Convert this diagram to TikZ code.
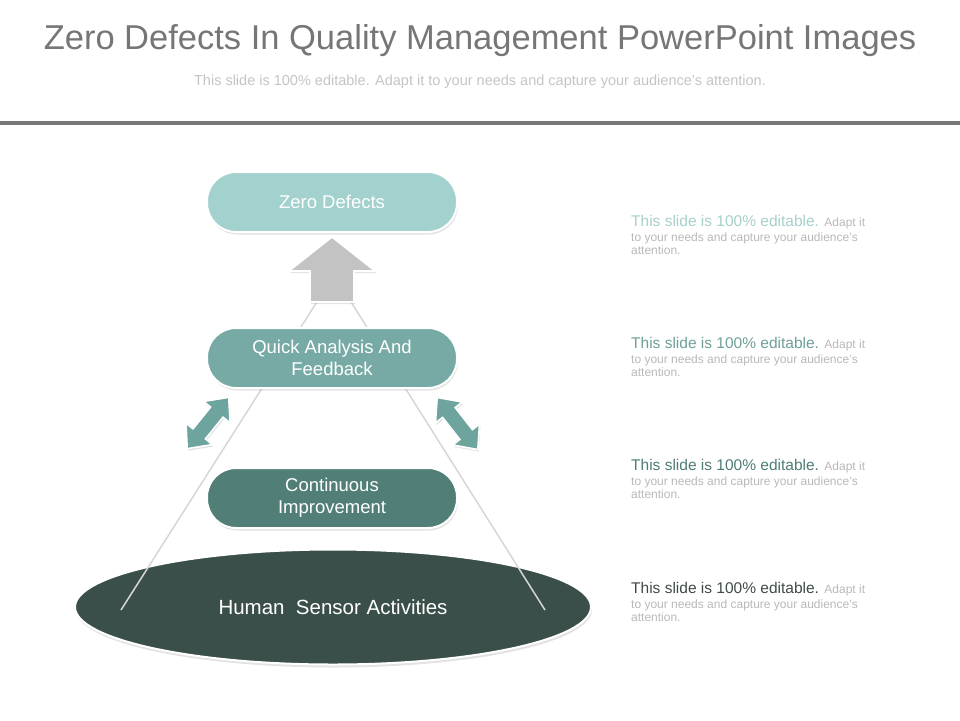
\documentclass[tikz,border=0pt]{standalone}
\usepackage{fontspec}
\setmainfont{Liberation Sans}
\usetikzlibrary{shapes.geometric,shadows}
\definecolor{titlegray}{HTML}{767676}
\definecolor{subgray}{HTML}{C4C4C4}
\definecolor{rulegray}{HTML}{777777}
\definecolor{smallgray}{HTML}{B8B8B8}
\definecolor{cA}{HTML}{A3D1CD}
\definecolor{cB}{HTML}{77AAA4}
\definecolor{cC}{HTML}{517F78}
\definecolor{cD}{HTML}{3B4F4A}
\definecolor{tA}{HTML}{A6CFCB}
\definecolor{tB}{HTML}{6F9F99}
\definecolor{tC}{HTML}{4F7C76}
\definecolor{tD}{HTML}{3F4B48}
\definecolor{arrgray}{HTML}{C3C3C3}
\definecolor{arrteal}{HTML}{6EA49E}
\definecolor{pyline}{HTML}{D6D6D6}
\tikzset{
  pill/.style={rectangle, rounded corners=29pt, minimum width=250pt, minimum height=60pt,
    draw=white, line width=2pt, text=white, align=center,
    font=\fontsize{18.5}{22}\selectfont,
    drop shadow={opacity=0.22, shadow xshift=1pt, shadow yshift=-2.5pt}},
  arrowshape/.style={draw=white, line width=1.6pt,
    drop shadow={opacity=0.22, shadow xshift=1pt, shadow yshift=-2pt}},
  headtext/.style={anchor=base west, inner sep=0pt, font=\fontsize{15.5}{18}\selectfont},
  smalltext/.style={anchor=base west, inner sep=0pt, text=smallgray, font=\fontsize{12}{14}\selectfont},
}
\begin{document}
\begin{tikzpicture}[x=1pt,y=-1pt]
\useasboundingbox (0,0) rectangle (960,720);
% header
\node[anchor=base, inner sep=0pt, text=titlegray, font=\fontsize{34.5}{40}\selectfont] (title) at (480,49) {Zero Defects In Quality Management PowerPoint Images};
\node[anchor=base, inner sep=0pt, text=subgray, font=\fontsize{14.5}{17}\selectfont] (subtitle) at (480,85) {This slide is 100\% editable. Adapt it to your needs and capture your audience's attention.};
\fill[rulegray] (0,120.5) rectangle (960,124.5);

% base ellipse
\node[ellipse, minimum width=516pt, minimum height=115pt, fill=cD, draw=white, line width=2pt,
  drop shadow={opacity=0.22, shadow xshift=1pt, shadow yshift=-3pt},
  text=white, font=\fontsize{20.5}{24}\selectfont] (base) at (333,607) {Human\ \ Sensor Activities};

% pyramid lines
\coordinate (apex) at (334,275);
\coordinate (leftfoot) at (121,610);
\coordinate (rightfoot) at (545,610);
\draw[pyline, line width=1.5pt] (leftfoot) -- (apex) -- (rightfoot);

% boxes
\node[pill, fill=cA] (zero) at (332,202) {Zero Defects};
\node[pill, fill=cB] (quick) at (332,358) {Quick Analysis And\\Feedback};
\node[pill, fill=cC] (cont) at (332,498) {Continuous\\Improvement};

% up arrow
\fill[arrgray, arrowshape] (332,237) -- (375,271) -- (354,271) -- (354,302) -- (310,302) -- (310,271) -- (289,271) -- cycle;

% double arrows
\begin{scope}[shift={(208,423)}, rotate=51]
\fill[arrteal, arrowshape] (-33,0) -- (-14,17) -- (-14,8) -- (14,8) -- (14,17) -- (33,0) -- (14,-17) -- (14,-8) -- (-14,-8) -- (-14,-17) -- cycle;
\end{scope}
\begin{scope}[shift={(457.5,423.5)}, rotate=-52]
\fill[arrteal, arrowshape] (-33,0) -- (-14,17) -- (-14,8) -- (14,8) -- (14,17) -- (33,0) -- (14,-17) -- (14,-8) -- (-14,-8) -- (-14,-17) -- cycle;
\end{scope}

% right side texts
\foreach \b/\c/\n in {226/tA/1, 348/tB/2, 470/tC/3, 593/tD/4}{
  \node[headtext, text=\c] (h\n) at (631,\b) {This slide is 100\% editable.};
  \node[smalltext] (s\n) at ([xshift=5pt]h\n.base east) {Adapt it};
  \node[smalltext] (l\n) at (631,\b+15) {to your needs and capture your audience's};
  \node[smalltext] (m\n) at (631,\b+28.5) {attention.};
}
\end{tikzpicture}
\end{document}
